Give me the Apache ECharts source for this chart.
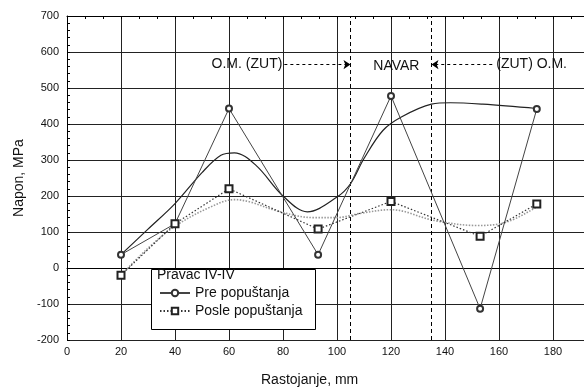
<!DOCTYPE html>
<html>
<head>
<meta charset="utf-8">
<script src="https://cdn.jsdelivr.net/npm/echarts@6/dist/echarts.min.js"></script>
<style>
  html, body { margin: 0; padding: 0; background: #fff; overflow: hidden; }
  /* plot runs on past the right edge of the window, like the original crop */
  #chart { width: 607px; height: 388px; }
</style>
</head>
<body>
<div id="chart"></div>
<script>
// measured points (Rastojanje, mm -> Napon, MPa)
const distance = [20, 40, 60, 93, 120, 153, 174];
const stressBefore = [37, 123, 443, 37, 478, -113, 442];
const stressAfter = [-20, 123, 220, 108, 185, 88, 178];

// fitted curves
const fitBeforeX = [20, 30, 40, 50, 57, 62, 70, 80, 89, 100, 105, 110, 117, 124, 135, 142, 154, 174];
const fitBeforeY = [37, 108, 179, 265, 313, 320, 285, 200, 156, 197, 234, 304, 382, 420, 455, 459, 455, 443];
const fitAfterX = [20, 30, 40, 53, 62, 68, 79, 91, 100, 108, 120, 136, 152, 163, 174];
const fitAfterY = [-20, 55, 116, 169, 190, 183, 156, 140, 140, 151, 162, 132, 118, 128, 170];

// weld zone annotation
const zoneBounds = [105, 135];
const zoneLabels = ['O.M. (ZUT)', 'NAVAR', '(ZUT) O.M.'];
const arrowFrom = [80.5, 157.5];
const navarX = 122;
const annotLevel = 565;

const seriesNames = ['Pre popuštanja', 'Posle popuštanja'];

const zip = (xs, ys) => xs.map((x, i) => [x, ys[i]]);

const chart = echarts.init(document.getElementById('chart'));
const font = 'Liberation Sans, Arial, sans-serif';

chart.setOption({
  animation: false,
  backgroundColor: '#fff',
  textStyle: { fontFamily: font },
  grid: { left: 67, top: 16, bottom: 48, right: 0 },
  xAxis: [
    {
      type: 'value',
      min: 0,
      max: 200,
      interval: 20,
      axisLine: { show: true, lineStyle: { color: '#000', width: 1 } },
      axisTick: { show: false },
      axisLabel: { color: '#111', fontSize: 11, margin: 6, showMaxLabel: false },
      splitLine: { show: true, lineStyle: { color: '#222', width: 1 } }
    },
    {
      type: 'value',
      position: 'top',
      min: 0,
      max: 200,
      interval: 20,
      axisLine: { show: true, lineStyle: { color: '#000', width: 1 } },
      axisTick: { show: true, inside: true, length: 3, lineStyle: { color: '#000' } },
      minorTick: { show: true, splitNumber: 3, length: 3, lineStyle: { color: '#000' } },
      axisLabel: { show: false },
      splitLine: { show: false }
    }
  ],
  yAxis: {
    type: 'value',
    min: -200,
    max: 700,
    interval: 100,
    name: 'Napon, MPa',
    nameLocation: 'middle',
    nameGap: 40,
    nameTextStyle: { color: '#111', fontSize: 14 },
    axisLine: { show: true, lineStyle: { color: '#000', width: 1 } },
    axisTick: { show: true, inside: true, length: 3, lineStyle: { color: '#000' } },
    minorTick: { show: true, splitNumber: 5, length: 3, lineStyle: { color: '#000' } },
    axisLabel: { color: '#111', fontSize: 11, margin: 8 },
    splitLine: { show: true, lineStyle: { color: '#222', width: 1 } }
  },
  legend: {
    data: seriesNames,
    orient: 'vertical',
    left: 159,
    top: 286,
    padding: 0,
    itemGap: 4,
    itemWidth: 30,
    itemHeight: 8,
    z: 30,
    textStyle: { color: '#111', fontSize: 14, fontFamily: font }
  },
  graphic: [
    {
      type: 'rect',
      left: 151,
      top: 269,
      z: 25,
      shape: { width: 164, height: 60 },
      style: { fill: '#fff', stroke: '#000', lineWidth: 1 }
    },
    {
      type: 'text',
      left: 157,
      top: 268,
      z: 30,
      style: { text: 'Pravac IV-IV', fill: '#111', font: '14px ' + font }
    },
    {
      type: 'text',
      left: 261,
      top: 373,
      style: { text: 'Rastojanje, mm', fill: '#111', font: '14px ' + font }
    }
  ],
  series: [
    {
      name: seriesNames[0],
      type: 'line',
      data: zip(distance, stressBefore),
      symbol: 'emptyCircle',
      symbolSize: 6,
      itemStyle: { color: '#333', borderWidth: 1 },
      lineStyle: { color: '#444', width: 1 },
      z: 5
    },
    {
      name: seriesNames[1],
      type: 'line',
      data: zip(distance, stressAfter),
      symbol: 'emptyRect',
      symbolSize: 7,
      itemStyle: { color: '#222', borderWidth: 1 },
      lineStyle: { color: '#333', width: 1.2, type: [1.5, 2] },
      z: 5
    },
    {
      name: 'fit pre',
      type: 'line',
      data: zip(fitBeforeX, fitBeforeY),
      smooth: 0.35,
      showSymbol: false,
      lineStyle: { color: '#222', width: 1.2 },
      z: 4
    },
    {
      name: 'fit posle',
      type: 'line',
      data: zip(fitAfterX, fitAfterY),
      smooth: 0.35,
      showSymbol: false,
      lineStyle: { color: '#999', width: 1.6, type: [1.5, 1.5] },
      z: 4
    },
    {
      // zone boundaries
      name: 'granice',
      type: 'line',
      data: [],
      silent: true,
      markLine: {
        silent: true,
        animation: false,
        symbol: 'none',
        lineStyle: { color: '#000', width: 1, type: [4, 3] },
        label: { show: false },
        data: zoneBounds.map((b) => ({ xAxis: b }))
      }
    },
    {
      // arrows + labels
      name: 'zona',
      type: 'line',
      data: [],
      silent: true,
      markLine: {
        silent: true,
        animation: false,
        symbol: ['none', 'arrow'],
        symbolSize: 7,
        lineStyle: { color: '#000', width: 1, type: [3, 3] },
        label: { show: false },
        data: [
          [
            {
              coord: [arrowFrom[0], annotLevel],
              label: { show: true, position: 'start', distance: 2, formatter: zoneLabels[0], color: '#111', fontSize: 14 }
            },
            { coord: [zoneBounds[0], annotLevel] }
          ],
          [
            {
              coord: [arrowFrom[1], annotLevel],
              label: { show: true, position: 'start', distance: 4, formatter: zoneLabels[2], color: '#111', fontSize: 14 }
            },
            { coord: [zoneBounds[1], annotLevel] }
          ]
        ]
      },
      markPoint: {
        silent: true,
        symbol: 'circle',
        symbolSize: 0,
        label: { show: true, position: 'inside', color: '#111', fontSize: 14 },
        data: [{ coord: [navarX, annotLevel - 5], value: zoneLabels[1], label: { formatter: zoneLabels[1] } }]
      }
    }
  ]
});
</script>
</body>
</html>
